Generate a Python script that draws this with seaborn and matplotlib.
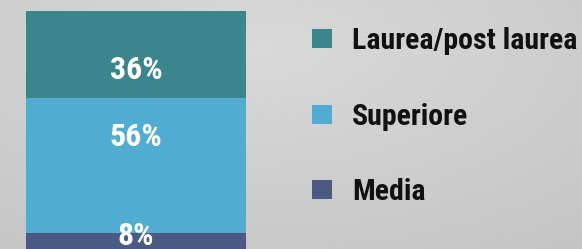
import numpy as np
import pandas as pd
import matplotlib.pyplot as plt
import matplotlib.font_manager as fm
import seaborn as sns

# istruzione: dal basso verso l'alto
livelli = ['Media', 'Superiore', 'Laurea/post laurea']
quote = [8, 56, 36]
etichette = ['8%', '56%', '36%']

colori = ['#4a5a82', '#52abd0', '#3a868c']
pos_etichetta = [0.83, 0.71, 0.32]  # frazione del segmento dove sta il testo

sns.set_style('white')
famiglie = [f for f in ['Liberation Sans Narrow', 'Roboto Condensed', 'Liberation Sans', 'DejaVu Sans']
            if any(f == x.name for x in fm.fontManager.ttflist)]
plt.rcParams['font.family'] = famiglie

fig = plt.figure(figsize=(5.82, 2.49), dpi=100)

# sfondo grigio con leggera vignettatura
bg = fig.add_axes([0, 0, 1, 1])
yy, xx = np.mgrid[0:1:100j, 0:1:200j]
r = np.sqrt(((xx - 0.45) / 0.9) ** 2 + ((yy - 0.2) / 1.0) ** 2)
bg.imshow(0.85 - 0.08 * r, cmap='gray', vmin=0, vmax=1, aspect='auto', extent=[0, 1, 0, 1])
bg.axis('off')

ax = fig.add_axes([26 / 582, 1 - 252 / 249, 220 / 582, 241 / 249])
df = pd.DataFrame({'livello': livelli, 'quota': quote})
base = 0
for i, row in df.iterrows():
    sns.barplot(x=[0], y=[row['quota']], bottom=base, color=colori[i],
                width=1.0, saturation=1, linewidth=0, ax=ax, label=row['livello'])
    ax.text(0, base + pos_etichetta[i] * row['quota'], etichette[i], ha='center', va='center',
            color='white', fontsize=23, fontweight='bold')
    base += row['quota']
ax.set_xlim(-0.5, 0.5)
ax.set_ylim(0, 100)
ax.axis('off')

h, l = ax.get_legend_handles_labels()
if ax.legend_ is not None:
    ax.legend_.remove()
leg = fig.legend(h[::-1], l[::-1], loc='upper left', bbox_to_anchor=(285 / 582, 1 - 0 / 249),
                 frameon=False, prop={'weight': 'bold', 'size': 21.5},
                 handlelength=0.68, handleheight=0.6, handletextpad=0.66, labelspacing=1.6)
for t in leg.get_texts():
    t.set_color('#111111')

fig.savefig('out.png', dpi=100)
